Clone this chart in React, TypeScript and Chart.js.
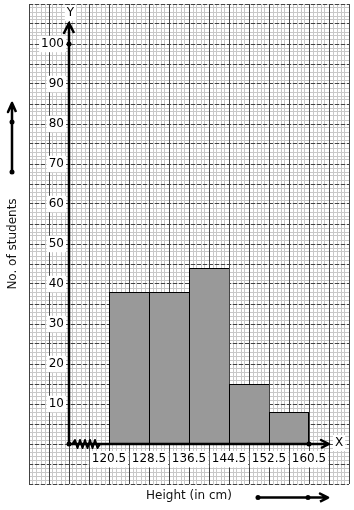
import React, { useEffect, useRef } from 'react';
import { Chart, registerables } from 'chart.js';

Chart.register(...registerables);

// ---- data ----
const classMid = [124.5, 132.5, 140.5, 148.5, 156.5];
const students = [38, 38, 44, 15, 8];

const xTickValues = [120.5, 128.5, 136.5, 144.5, 152.5, 160.5];
const xTickLabels = ['120.5', '128.5', '136.5', '144.5', '152.5', '160.5'];
const yTickValues = [10, 20, 30, 40, 50, 60, 70, 80, 90, 100];
const yTickLabels = ['10', '20', '30', '40', '50', '60', '70', '80', '90', '100'];

const xMin = 104.5;
const xMax = 168.5;
const xMajorStep = 4;
const xMinorStep = 0.8;
const yMin = -10;
const yMax = 110;
const yMajorStep = 5;
const yMinorStep = 1;
const yLabelAnchorX = 111.5;

const xAxisTitle = 'Height (in cm)';
const yAxisTitle = 'No. of students';

// axis lines with arrow heads (data units)
const yAxisX = [112.5, 112.5, 111.5, 112.5, 113.5];
const yAxisY = [0, 105.25, 102.75, 105.25, 102.75];
const xAxisX = [112.5, 164.5, 162.9, 164.5, 162.9];
const xAxisY = [0, 0, 1, 0, -1];
// kink (broken axis) on x axis
const kinkX = [113.2, 113.7, 114.2, 114.7, 115.2, 115.7, 116.2, 116.7, 117.2, 117.7, 118.2, 118.7];
const kinkY = [0, 1, -1, 1, -1, 1, -1, 1, -1, 1, -1, 0];
// marked points on axes
const dotX = [112.5, 112.5, 160.5];
const dotY = [0, 100, 0];
// decorative arrows beside the axis titles
const leftArrowX = [101.1, 101.1, 100.3, 101.1, 101.9];
const leftArrowY = [68, 85.25, 83, 85.25, 83];
const bottomArrowX = [150.3, 164.3, 162.7, 164.3, 162.7];
const bottomArrowY = [-13.4, -13.4, -12.4, -13.4, -14.4];
const outDotX = [101.1, 101.1, 150.3, 160.3];
const outDotY = [68, 80.5, -13.4, -13.4];
// axis letters
const letterText = ['Y', 'X'];
const letterX = [112.8, 166.5];
const letterY = [107.75, 0.25];

const FONT_FAMILY = '"DejaVu Sans", sans-serif';

const gridTicks = (min: number, max: number, step: number) => {
  const out: number[] = [];
  const n = Math.round((max - min) / step);
  for (let i = 0; i <= n; i++) out.push(+(min + i * step).toFixed(4));
  return out;
};
const setTicks = (values: number[]) => (scale: any) => {
  scale.ticks = values.map((v) => ({ value: v }));
};
const zeroPad = (s: any) => {
  s.paddingTop = 0;
  s.paddingBottom = 0;
  s.paddingLeft = 0;
  s.paddingRight = 0;
};
const pts = (xs: number[], ys: number[]) => xs.map((x, i) => ({ x, y: ys[i] }));

const decorPlugin = {
  id: 'decor',
  afterDraw(chart: any) {
    const { ctx } = chart;
    const sx = chart.scales.x;
    const sy = chart.scales.y;
    ctx.save();
    ctx.fillStyle = '#000';
    for (let i = 0; i < outDotX.length; i++) {
      ctx.beginPath();
      ctx.arc(sx.getPixelForValue(outDotX[i]), sy.getPixelForValue(outDotY[i]), 2.5, 0, Math.PI * 2);
      ctx.fill();
    }
    ctx.font = `12px ${FONT_FAMILY}`;
    ctx.textAlign = 'center';
    ctx.textBaseline = 'middle';
    for (let i = 0; i < letterText.length; i++) {
      const px = sx.getPixelForValue(letterX[i]);
      const py = sy.getPixelForValue(letterY[i]);
      const w = ctx.measureText(letterText[i]).width;
      ctx.fillStyle = '#fff';
      ctx.fillRect(px - w / 2 - 2, py - 8, w + 4, 16);
      ctx.fillStyle = '#000';
      ctx.fillText(letterText[i], px, py);
    }
    ctx.restore();
  },
};

export default function App() {
  const ref = useRef<HTMLCanvasElement | null>(null);

  useEffect(() => {
    if (!ref.current) return;
    const font = { family: FONT_FAMILY, size: 12 };
    const lineDs = (xs: number[], ys: number[], width: number, clip: boolean) => ({
      type: 'line' as const,
      data: pts(xs, ys),
      xAxisID: 'x',
      yAxisID: 'y',
      borderColor: '#000',
      borderWidth: width,
      pointRadius: 0,
      tension: 0,
      fill: false,
      order: 0,
      borderJoinStyle: 'round' as const,
      borderCapStyle: 'butt' as const,
      clip: clip ? undefined : (false as any),
    });
    const xBase = { type: 'linear', axis: 'x', min: xMin, max: xMax, offset: false };
    const yBase = { type: 'linear', axis: 'y', min: yMin, max: yMax, offset: false, beginAtZero: false };

    const chart = new Chart(ref.current, {
      type: 'bar',
      data: {
        datasets: [
          {
            type: 'line',
            data: pts(dotX, dotY),
            xAxisID: 'x',
            yAxisID: 'y',
            showLine: false,
            pointRadius: 2.5,
            pointBackgroundColor: '#000',
            pointBorderWidth: 0,
            order: -1,
          } as any,
          lineDs(kinkX, kinkY, 2, true),
          lineDs(yAxisX, yAxisY, 2.5, true),
          lineDs(xAxisX, xAxisY, 2.5, true),
          lineDs(leftArrowX, leftArrowY, 2.5, false),
          lineDs(bottomArrowX, bottomArrowY, 2.5, false),
          {
            type: 'bar',
            data: pts(classMid, students),
            xAxisID: 'x',
            yAxisID: 'y',
            backgroundColor: '#999999',
            borderColor: '#000',
            borderWidth: (c: any) => ({
              top: 1,
              left: 1,
              bottom: 0,
              right: c.dataIndex === classMid.length - 1 ? 1 : 0,
            }),
            barPercentage: 1,
            categoryPercentage: 1,
            inflateAmount: 0,
            order: 10,
          } as any,
        ],
      },
      options: {
        responsive: false,
        animation: false,
        events: [],
        layout: { padding: { left: 0, top: 4, right: 5, bottom: 0 } },
        plugins: { legend: { display: false }, tooltip: { enabled: false }, title: { display: false } },
        scales: {
          x: {
            ...xBase,
            position: 'bottom',
            display: false,
            grid: { offset: false },
            afterBuildTicks: setTicks([xMin, xMax]),
          },
          y: {
            ...yBase,
            position: 'left',
            display: false,
          },
          xm: {
            ...xBase,
            position: 'bottom',
            afterBuildTicks: setTicks(gridTicks(xMin, xMax, xMinorStep)),
            grid: { color: '#c8c8c8', lineWidth: 1, drawTicks: false, offset: false, z: -2 },
            border: { display: false },
            ticks: { display: false },
            title: { display: true, text: xAxisTitle, color: '#111', font, padding: { top: 4.8, bottom: 6.8 } },
          },
          xg: {
            ...xBase,
            position: 'bottom',
            afterBuildTicks: setTicks(gridTicks(xMin, xMax, xMajorStep)),
            grid: { color: '#444', lineWidth: 1, drawTicks: false, offset: false, z: -1 },
            border: { display: false },
            ticks: { display: false },
          },
          ym: {
            ...yBase,
            position: 'left',
            afterBuildTicks: setTicks(gridTicks(yMin, yMax, yMinorStep)),
            grid: { color: '#c8c8c8', lineWidth: 1, drawTicks: false, z: -2 },
            border: { display: false },
            ticks: { display: false },
            title: { display: true, text: yAxisTitle, color: '#111', font, padding: { top: 6, bottom: 8.6 } },
          },
          yg: {
            ...yBase,
            position: 'left',
            afterBuildTicks: setTicks(gridTicks(yMin, yMax, yMajorStep)),
            grid: { color: '#444', lineWidth: 1, drawTicks: false, z: -1 },
            border: { display: false, dash: [4, 2] },
            ticks: { display: false },
          },
          xl: {
            ...xBase,
            position: { y: 0 },
            afterBuildTicks: setTicks(xTickValues),
            afterFit: zeroPad,
            grid: { display: false, drawTicks: false, offset: false },
            border: { display: false },
            ticks: {
              callback: (_v: any, i: number) => xTickLabels[i],
              font,
              color: '#000',
              padding: 8,
              autoSkip: false,
              maxRotation: 0,
              minRotation: 0,
              showLabelBackdrop: true,
              backdropColor: '#fff',
              backdropPadding: { top: 1, bottom: 1, left: 2, right: 2 },
            },
          },
          yl: {
            ...yBase,
            position: { x: yLabelAnchorX },
            afterBuildTicks: setTicks(yTickValues),
            afterFit: zeroPad,
            grid: { display: false, drawTicks: false },
            border: { display: false },
            ticks: {
              callback: (_v: any, i: number) => yTickLabels[i],
              font,
              color: '#000',
              padding: 0,
              autoSkip: false,
              showLabelBackdrop: true,
              backdropColor: '#fff',
              backdropPadding: { top: 1, bottom: 1, left: 2, right: 2 },
            },
          },
        } as any,
      },
      plugins: [decorPlugin],
    });
    return () => chart.destroy();
  }, []);

  return (
    <div style={{ position: 'fixed', left: 0, top: 0, width: 354, height: 510, background: '#fff' }}>
      <canvas ref={ref} width={354} height={510} style={{ display: 'block' }} />
    </div>
  );
}
